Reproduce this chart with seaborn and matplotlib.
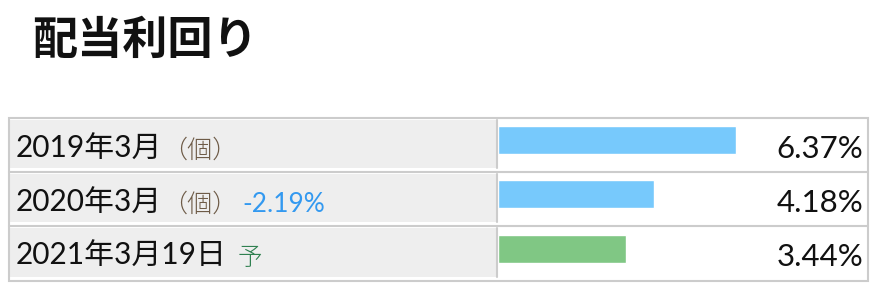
import matplotlib
matplotlib.use("Agg")
import matplotlib.pyplot as plt
from matplotlib.patches import Rectangle
from matplotlib.lines import Line2D
import seaborn as sns
import pandas as pd

# ---- data ----
labels = ["2019年3月", "2020年3月", "2021年3月19日"]
notes = ["（個）", "（個）", ""]
changes = ["", "-2.19%", ""]
forecast_marks = ["", "", "予"]
values = [6.37, 4.18, 3.44]
kinds = ["実績", "実績", "予想"]
title = "配当利回り"

sns.set_theme(style="white")
plt.rcParams["font.family"] = ["Noto Sans CJK JP", "DejaVu Sans"]
MIX = ["Lato", "Noto Sans CJK JP", "DejaVu Sans"]

W, H = 882, 288
fig = plt.figure(figsize=(W / 100, H / 100), dpi=100)


def fx(x):
    return x / W


def fy(y):
    return 1 - y / H


# table geometry (pixels)
left, right, top, bottom = 9, 868, 118, 281
divider = 497
row_bounds = [(118, 172), (172, 226), (226, 281)]
border_c = "#cccccc"

# gray label cells
for (r0, r1) in row_bounds:
    fig.add_artist(Rectangle((fx(left + 1), fy(r1 - 4)), fx(divider - left - 2),
                             (r1 - 4 - (r0 + 2)) / H, transform=fig.transFigure,
                             facecolor="#eeeeee", edgecolor="none", zorder=0.5))
    fig.add_artist(Line2D([fx(divider), fx(divider)], [fy(r0 + 2), fy(r1 - 4)],
                          transform=fig.transFigure, color=border_c, lw=1.5, zorder=1))

# outer border and separators
fig.add_artist(Rectangle((fx(left), fy(bottom)), fx(right - left), (bottom - top) / H,
                         transform=fig.transFigure, facecolor="none",
                         edgecolor=border_c, lw=1.5, zorder=2))
for (r0, r1) in row_bounds[1:]:
    fig.add_artist(Line2D([fx(left), fx(right)], [fy(r0), fy(r0)],
                          transform=fig.transFigure, color=border_c, lw=1.5, zorder=2))

# bar axes
bar_x0 = 498
ax = fig.add_axes([fx(bar_x0), fy(bottom), fx(right - bar_x0), (bottom - top) / H])
df = pd.DataFrame({"label": labels, "value": values, "kind": kinds})
sns.barplot(data=df, x="value", y="label", hue="kind", orient="h",
            palette={"実績": "#77c9fc", "予想": "#80c784"}, width=0.52,
            dodge=False, legend=False, saturation=1, ax=ax)
px_per_unit = 37.35
ax.set_xlim(0, (right - bar_x0) / px_per_unit)
row_h = (bottom - top) / 3
off = (140 - top) / row_h
ax.set_ylim(3 - off, -off)
ax.axis("off")

# title
fig.text(fx(32), fy(54), title, fontsize=32.5, fontweight="bold", color="#111111",
         va="baseline", ha="left")

# labels
fig.canvas.draw()
renderer = fig.canvas.get_renderer()
baselines = [158, 212, 265]
value_baselines = [158, 212, 266]
fs = 21.5
for i, lab in enumerate(labels):
    yb = fy(baselines[i])
    t = fig.text(fx(16), yb, lab, fontsize=fs, color="#111111",
                 va="baseline", ha="left", family=MIX)
    x = t.get_window_extent(renderer).x1
    if notes[i]:
        t2 = fig.text(x / W, yb, notes[i], fontsize=fs * 0.84, fontweight="light",
                      color="#6e5b47", va="baseline", ha="left")
        x = t2.get_window_extent(renderer).x1
    if changes[i]:
        t3 = fig.text((x + 5) / W, yb, changes[i], fontsize=fs * 0.88,
                      color="#3399f0", va="baseline", ha="left", family=MIX)
        x = t3.get_window_extent(renderer).x1
    if forecast_marks[i]:
        fig.text((x + 11) / W, yb, forecast_marks[i], fontsize=fs * 0.82,
                 fontweight="light", color="#2f8050", va="baseline", ha="left")
    fig.text(fx(863), fy(value_baselines[i]), f"{values[i]:.2f}%", fontsize=22.5,
             color="#111111", va="baseline", ha="right", family=MIX)

fig.savefig("out.png", dpi=100)
